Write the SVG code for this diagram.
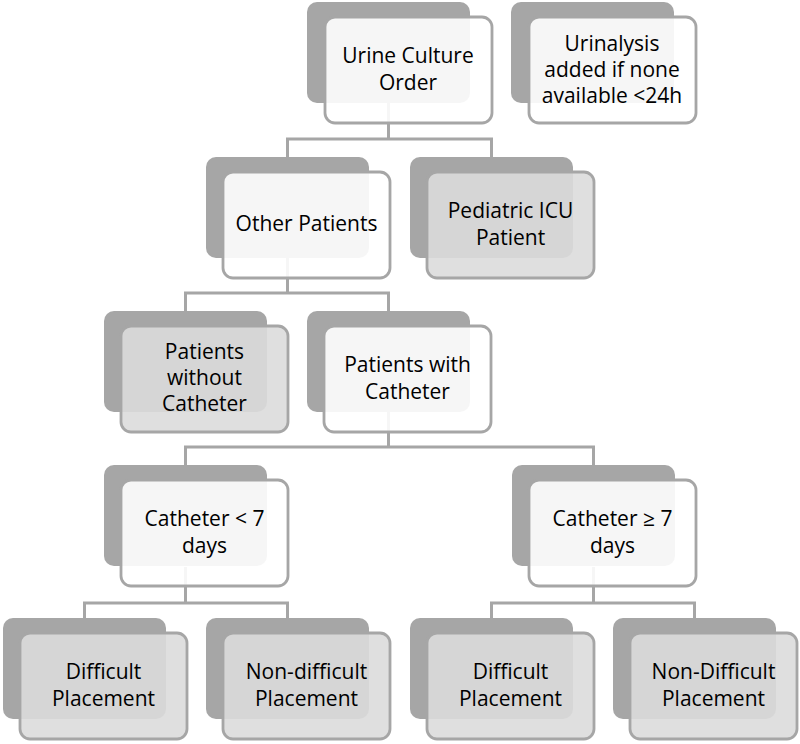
<svg xmlns="http://www.w3.org/2000/svg" width="800" height="744" viewBox="0 0 800 744">
<style>
.bg{fill:#a6a6a6;stroke:none}
.fw{fill:#ffffff;fill-opacity:0.9;stroke:#a6a6a6;stroke-width:2.8}
.fg{fill:#dcdcdc;fill-opacity:0.9;stroke:#a6a6a6;stroke-width:2.8}
.t{font-family:"Open Sans","DejaVu Sans",sans-serif;font-size:21px;fill:#000;text-anchor:middle}
.c{fill:none;stroke:#a6a6a6;stroke-width:3}
</style>
<rect width="800" height="744" fill="#fff"/>
<g id="connectors">
<path class="c" d="M388.5,103V139M287.5,157V139H491.5V157"/>
<path class="c" d="M287.5,258V293M185.5,311V293H388.5V311"/>
<path class="c" d="M388.5,412V447M185.5,465V447H593.5V465"/>
<path class="c" d="M185.5,567V603M84.5,618V603H287.5V618"/>
<path class="c" d="M593.5,567V603M491.5,618V603H694.5V618"/>
</g>
<g id="n-urine-culture">
<rect class="bg" x="307" y="2" width="163" height="101" rx="10"/>
<rect class="fw" x="325" y="17" width="167" height="106" rx="10"/>
<text class="t" x="408" y="63">Urine Culture</text>
<text class="t" x="408" y="90">Order</text>
</g>
<g id="n-urinalysis">
<rect class="bg" x="511" y="2" width="163" height="101" rx="10"/>
<rect class="fw" x="529" y="17" width="167" height="106" rx="10"/>
<text class="t" x="612" y="50.5">Urinalysis</text>
<text class="t" x="612" y="76.5">added if none</text>
<text class="t" x="612" y="102.5">available &lt;24h</text>
</g>
<g id="n-other">
<rect class="bg" x="206" y="157" width="163" height="101" rx="10"/>
<rect class="fw" x="223" y="172" width="167" height="106" rx="10"/>
<text class="t" x="306.5" y="231">Other Patients</text>
</g>
<g id="n-picu">
<rect class="bg" x="410" y="157" width="163" height="101" rx="10"/>
<rect class="fg" x="427" y="172" width="167" height="106" rx="10"/>
<text class="t" x="510.5" y="218">Pediatric ICU</text>
<text class="t" x="510.5" y="245">Patient</text>
</g>
<g id="n-without">
<rect class="bg" x="104" y="311" width="163" height="101" rx="10"/>
<rect class="fg" x="121" y="326" width="167" height="106" rx="10"/>
<text class="t" x="204.5" y="359">Patients</text>
<text class="t" x="204.5" y="385">without</text>
<text class="t" x="204.5" y="411">Catheter</text>
</g>
<g id="n-with">
<rect class="bg" x="307" y="311" width="163" height="101" rx="10"/>
<rect class="fw" x="324" y="326" width="167" height="106" rx="10"/>
<text class="t" x="407.5" y="372">Patients with</text>
<text class="t" x="407.5" y="399">Catheter</text>
</g>
<g id="n-cath-lt7">
<rect class="bg" x="104" y="465" width="163" height="101" rx="10"/>
<rect class="fw" x="121" y="480" width="167" height="106" rx="10"/>
<text class="t" x="204.5" y="526">Catheter &lt; 7</text>
<text class="t" x="204.5" y="553">days</text>
</g>
<g id="n-cath-ge7">
<rect class="bg" x="512" y="465" width="163" height="101" rx="10"/>
<rect class="fw" x="529" y="480" width="167" height="106" rx="10"/>
<text class="t" x="612.5" y="526">Catheter ≥ 7</text>
<text class="t" x="612.5" y="553">days</text>
</g>
<g id="n-difficult-1">
<rect class="bg" x="3" y="618" width="163" height="101" rx="10"/>
<rect class="fg" x="20" y="633" width="167" height="106" rx="10"/>
<text class="t" x="103.5" y="679">Difficult</text>
<text class="t" x="103.5" y="706">Placement</text>
</g>
<g id="n-nondifficult-1">
<rect class="bg" x="206" y="618" width="163" height="101" rx="10"/>
<rect class="fg" x="223" y="633" width="167" height="106" rx="10"/>
<text class="t" x="306.5" y="679">Non-difficult</text>
<text class="t" x="306.5" y="706">Placement</text>
</g>
<g id="n-difficult-2">
<rect class="bg" x="410" y="618" width="163" height="101" rx="10"/>
<rect class="fg" x="427" y="633" width="167" height="106" rx="10"/>
<text class="t" x="510.5" y="679">Difficult</text>
<text class="t" x="510.5" y="706">Placement</text>
</g>
<g id="n-nondifficult-2">
<rect class="bg" x="613" y="618" width="163" height="101" rx="10"/>
<rect class="fg" x="630" y="633" width="167" height="106" rx="10"/>
<text class="t" x="713.5" y="679">Non-Difficult</text>
<text class="t" x="713.5" y="706">Placement</text>
</g>
</svg>
